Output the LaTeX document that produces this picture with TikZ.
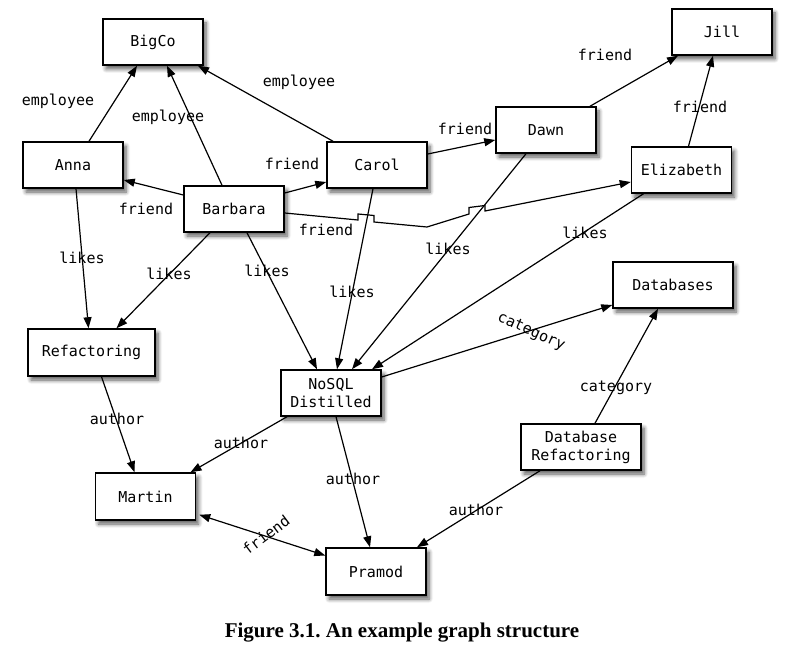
\documentclass[tikz,border=0pt]{standalone}
\usepackage{fontspec}
\setmonofont{DejaVu Sans Mono}
\newfontfamily\capfont{Liberation Serif}
\usetikzlibrary{arrows.meta,shadows.blur,calc}
\frenchspacing
\begin{document}
\begin{tikzpicture}[x=1pt,y=-1pt,
  >={Triangle[length=11pt,width=8pt]},
  box/.style={draw, line width=1.5pt, fill=white, minimum width=100pt, minimum height=46pt,
    inner sep=2pt, align=center, font=\ttfamily\fontsize{15}{18}\selectfont,
    blur shadow={shadow xshift=3pt, shadow yshift=-4pt, shadow blur steps=6,
      shadow blur radius=4pt, shadow opacity=65}},
  edge/.style={line width=1.2pt, ->},
  lbl/.style={font=\ttfamily\fontsize{15}{18}\selectfont, inner sep=0pt}]
\useasboundingbox (0,0) rectangle (785,647);

% nodes
\node[box] (bigco) at (153,42) {BigCo};
\node[box] (anna) at (73,165) {Anna};
\node[box] (barbara) at (234,209) {Barbara};
\node[box] (carol) at (377,165) {Carol};
\node[box] (dawn) at (546,130) {Dawn};
\node[box] (jill) at (722,32) {Jill};
\node[box] (eliz) at (681.5,170) {Elizabeth};
\node[box, minimum width=120pt] (db) at (673,285) {Databases};
\node[box, minimum width=127pt, minimum height=47pt] (refac) at (91.5,352.5) {Refactoring};
\node[box] (nosql) at (331,393) {NoSQL\\Distilled};
\node[box, minimum width=120pt] (dbref) at (581,447) {Database\\Refactoring};
\node[box, minimum height=47pt] (martin) at (145.5,496.5) {Martin};
\node[box, minimum height=47pt] (pramod) at (376,571.5) {Pramod};

% employee
\draw[edge] ($(anna.north)+(16,0)$) -- ($(bigco.south)+(-16,0)$);
\draw[edge] ($(barbara.north)+(-12,0)$) -- ($(bigco.south)+(14,0)$);
\draw[edge] ($(carol.north)+(-44,0)$) -- ($(bigco.south)+(45,0)$);
% friend
\draw[edge] ($(barbara.west)+(0,-14)$) -- ($(anna.east)+(0,15)$);
\draw[edge] ($(barbara.east)+(0,-16)$) -- ($(carol.west)+(0,17)$);
\draw[edge] ($(carol.east)+(0,-11)$) -- ($(dawn.west)+(0,10)$);
\draw[edge] ($(dawn.north)+(44,0)$) -- ($(jill.south)+(-44,0)$);
\draw[edge] ($(eliz.north)+(7,0)$) -- ($(jill.south)+(-9,0)$);
\coordinate (bend) at (427,227);
\draw[edge] ($(barbara.east)+(0,4)$) -- (358,220) -- (358,214) -- (374,215.5) -- (374,222)
  -- (bend) -- (469,214) -- (469,207.5) -- (485,205.5) -- (485,211) -- ($(eliz.west)+(0,12)$);
% likes
\draw[edge] ($(anna.south)+(3,0)$) -- ($(refac.north)+(-3,0)$);
\draw[edge] ($(barbara.south)+(-24,0)$) -- ($(refac.north)+(25,0)$);
\draw[edge] ($(barbara.south)+(13,0)$) -- ($(nosql.north)+(-14,0)$);
\draw[edge] ($(carol.south)+(-4,0)$) -- ($(nosql.north)+(6,0)$);
\draw[edge] ($(dawn.south)+(-20,0)$) -- ($(nosql.north)+(21,0)$);
\draw[edge] ($(eliz.south)+(-38,0)$) -- ($(nosql.north)+(41,0)$);
% category
\draw[edge] ($(nosql.east)+(0,-16)$) -- ($(db.west)+(0,20)$);
\draw[edge] ($(dbref.north)+(14,0)$) -- ($(db.south)+(-15,0)$);
% author
\draw[edge] ($(refac.south)+(10,0)$) -- ($(martin.north)+(-11,0)$);
\draw[edge] ($(nosql.south)+(-44,0)$) -- ($(martin.north)+(45,0)$);
\draw[edge] ($(nosql.south)+(5,0)$) -- ($(pramod.north)+(-6,0)$);
\draw[edge] ($(dbref.south)+(-41,0)$) -- ($(pramod.north)+(41,0)$);
\draw[edge,<->] ($(martin.south east)+(3,-6)$) -- ($(pramod.west)+(0,-16)$);

% labels
\node[lbl] (l1) at (58,101) {employee};
\node[lbl] (l2) at (168,117) {employee};
\node[lbl] (l3) at (299,82) {employee};
\node[lbl] (l4) at (146,209) {friend};
\node[lbl] (l5) at (292,164) {friend};
\node[lbl] (l6) at (326,230) {friend};
\node[lbl] (l7) at (465,129) {friend};
\node[lbl] (l8) at (605,55) {friend};
\node[lbl] (l9) at (700,107) {friend};
\node[lbl] (l10) at (82,258) {likes};
\node[lbl] (l11) at (169,274) {likes};
\node[lbl] (l12) at (267,271) {likes};
\node[lbl] (l13) at (352,292) {likes};
\node[lbl] (l14) at (448,249) {likes};
\node[lbl] (l15) at (585,233) {likes};
\node[lbl, rotate=-24] (l16) at (531,332) {category};
\node[lbl] (l17) at (616,388) {category};
\node[lbl] (l18) at (117,419) {author};
\node[lbl] (l19) at (241,443) {author};
\node[lbl] (l20) at (353,479) {author};
\node[lbl] (l21) at (476,510) {author};
\node[lbl, rotate=37] (l22) at (266,535) {friend};

% caption
\node[font=\capfont\bfseries\fontsize{21}{24}\selectfont, anchor=base, inner sep=0pt] (caption)
  at (402,637) {Figure 3.1. An example graph structure};
\end{tikzpicture}
\end{document}
